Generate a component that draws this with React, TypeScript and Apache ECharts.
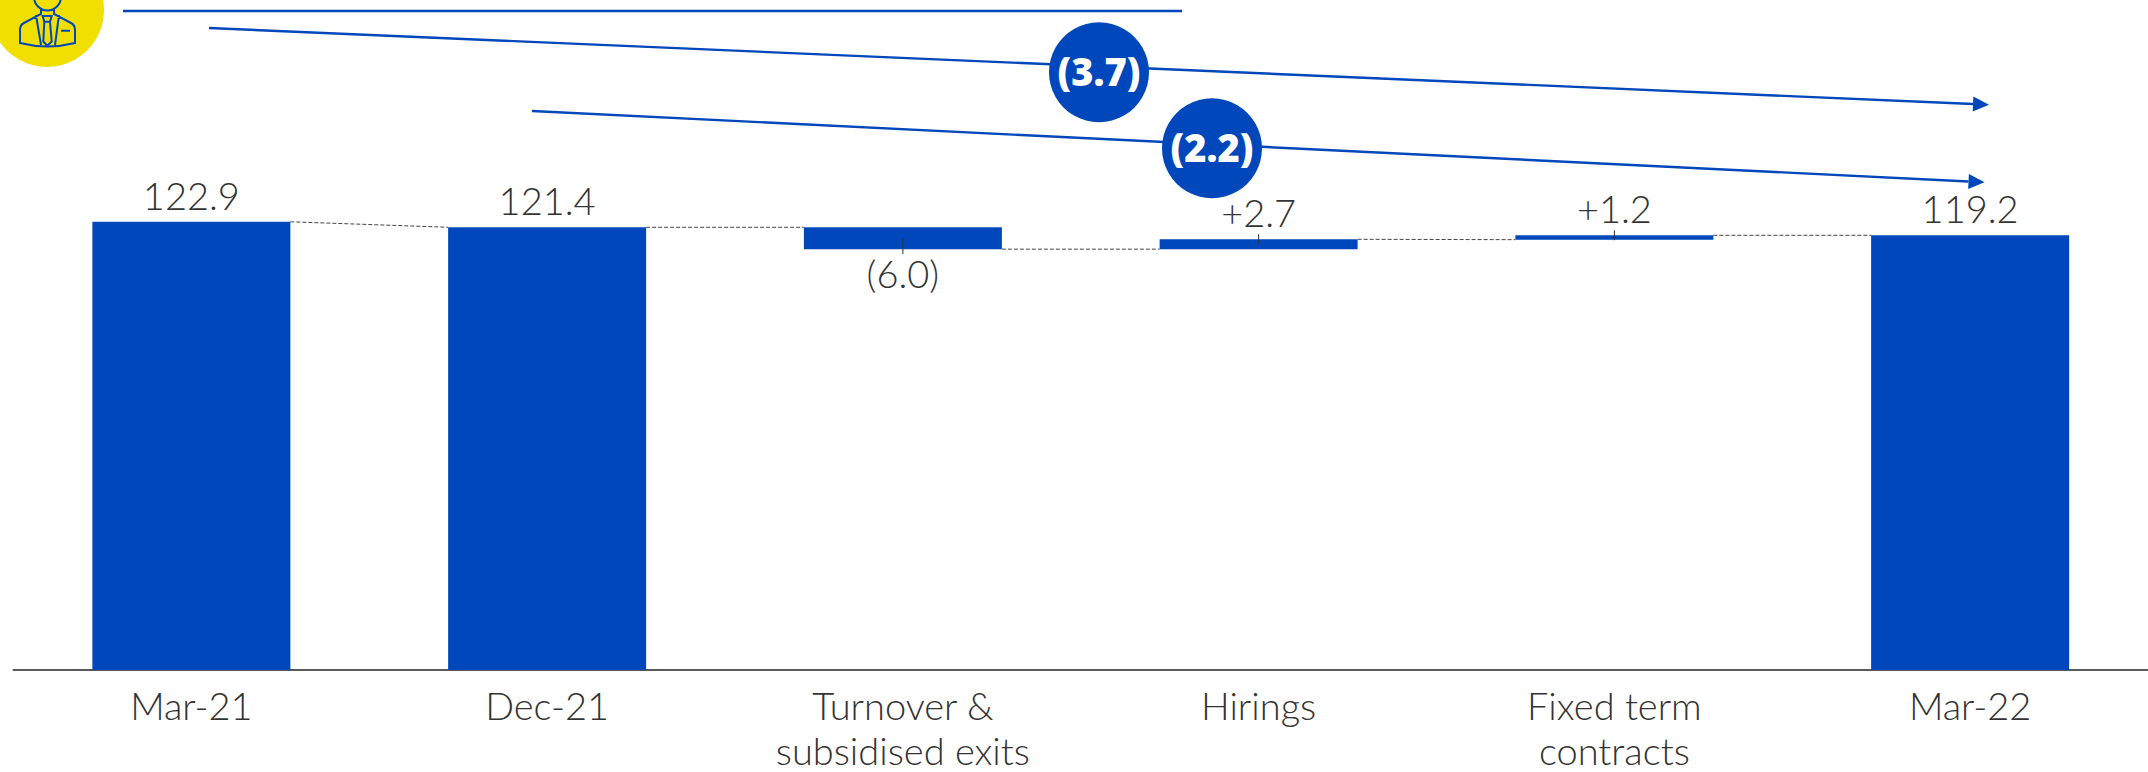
import React, { useEffect, useRef } from "react";
import * as echarts from "echarts";

const categories = ["Mar-21", "Dec-21", "Turnover &\nsubsidised exits", "Hirings", "Fixed term\ncontracts", "Mar-22"];
const barBase = [0, 0, 115.4, 115.4, 118.0, 0];
const barSize = [122.9, 121.4, 6.0, 2.7, 1.2, 119.2];
const valueLabels = ["122.9", "121.4", "(6.0)", "+2.7", "+1.2", "119.2"];
const labelSides = ["top", "top", "bottom", "top", "top", "top"];
const connectorLevels = [
  [122.9, 121.4],
  [121.4, 121.4],
  [115.4, 115.4],
  [118.1, 118.0],
  [119.2, 119.2],
];
const leaderLevels = [
  [2, 115.4],
  [3, 118.1],
  [4, 119.2],
];
const trendLabels = ["(3.7)", "(2.2)"];

const BLUE = "#0047BB";
const INK = "#333333";
const YELLOW = "#F0DF00";
const FONT = "Lato, 'Open Sans', sans-serif";
const BADGE_FONT = "'Open Sans', Lato, sans-serif";
const BAR_WIDTH = 198;

const PERSON_ICON =
  "M34,-3 A13.5,13.5 0 0 0 61,-3 " +
  "M41,9 L41,14 L24,23 Q20,25 20,30 L20,43 Q47.5,50 75,43 L75,30 Q75,25 71,23 L54,14 L54,9 " +
  "M36,15 L41,45 M59,15 L55,45 " +
  "M42.7,16 L51.7,16 L50,21.7 L44.3,21.7 Z " +
  "M44.3,21.7 L43.3,41.5 L47.3,45.7 L51.7,41.5 L50,21.7 " +
  "M61,30.7 L70,30.7";

echarts.graphic.registerShape("personIcon", echarts.graphic.extendPath(PERSON_ICON, {}));

// Straight trend arrow: shaft plus a triangular head aligned to the shaft's slope.
function arrow(x1: number, y1: number, x2: number, y2: number) {
  const a = Math.atan2(y2 - y1, x2 - x1);
  const len = 16;
  const half = 7.5;
  const bx = x2 - len * Math.cos(a);
  const by = y2 - len * Math.sin(a);
  return [
    { type: "line", shape: { x1, y1, x2: bx, y2: by }, style: { stroke: BLUE, lineWidth: 2.4 } },
    {
      type: "polygon",
      shape: {
        points: [
          [x2, y2],
          [bx - half * Math.sin(a), by + half * Math.cos(a)],
          [bx + half * Math.sin(a), by - half * Math.cos(a)],
        ],
      },
      style: { fill: BLUE },
    },
  ];
}

function badge(cx: number, cy: number, text: string) {
  return [
    { type: "circle", shape: { cx, cy, r: 50 }, style: { fill: BLUE } },
    {
      type: "text",
      x: cx,
      y: cy - 1,
      style: {
        text,
        fill: "#FFFFFF",
        font: `800 38px ${BADGE_FONT}`,
        align: "center",
        verticalAlign: "middle",
      },
    },
  ];
}

export default function App() {
  const ref = useRef<HTMLDivElement>(null);

  useEffect(() => {
    const chart = echarts.init(ref.current!, null, { renderer: "svg" });

    chart.setOption({
      animation: false,
      backgroundColor: "#FFFFFF",
      grid: { left: 13.5, top: 86.5, width: 2134.5, height: 585.5 },
      xAxis: {
        type: "category",
        data: categories,
        axisLine: { lineStyle: { color: "#5A5A5A", width: 2 } },
        axisTick: { show: false },
        axisLabel: {
          color: INK,
          fontFamily: FONT,
          fontWeight: 300,
          fontSize: 38,
          lineHeight: 45,
          margin: 12,
          interval: 0,
        },
      },
      yAxis: { type: "value", min: 0, max: 160, show: false },
      series: [
        {
          type: "bar",
          stack: "walk",
          silent: true,
          barWidth: BAR_WIDTH,
          itemStyle: { color: "transparent" },
          data: barBase,
        },
        {
          type: "bar",
          stack: "walk",
          silent: true,
          barWidth: BAR_WIDTH,
          itemStyle: { color: BLUE },
          data: barSize.map((value, i) => ({
            value,
            label: {
              show: true,
              position: labelSides[i],
              distance: labelSides[i] === "top" ? 8 : 5,
              formatter: valueLabels[i],
              color: INK,
              fontFamily: FONT,
              fontWeight: 300,
              fontSize: 38,
              lineHeight: 38,
            },
          })),
        },
        {
          // Dashed connectors between the edges of neighbouring bars.
          type: "custom",
          silent: true,
          z: 3,
          clip: false,
          data: connectorLevels.map((levels, i) => [i, levels[0], levels[1]]),
          renderItem: (_: unknown, api: any) => {
            const i = api.value(0);
            const a = api.coord([i, api.value(1)]);
            const b = api.coord([i + 1, api.value(2)]);
            return {
              type: "line",
              shape: { x1: a[0] + BAR_WIDTH / 2, y1: a[1], x2: b[0] - BAR_WIDTH / 2, y2: b[1] },
              style: { stroke: "#444444", lineWidth: 1, lineDash: [4, 2] },
            };
          },
        },
        {
          // Short leader ticks tying each movement bar to its value label.
          type: "custom",
          silent: true,
          z: 3,
          clip: false,
          data: leaderLevels,
          renderItem: (_: unknown, api: any) => {
            const i = api.value(0);
            const p = api.coord([i, api.value(1)]);
            const below = labelSides[i] === "bottom";
            return {
              type: "line",
              shape: { x1: p[0], y1: p[1] - (below ? 11 : 5), x2: p[0], y2: p[1] + 5 },
              style: { stroke: INK, lineWidth: 1 },
            };
          },
        },
      ],
      graphic: [
        { type: "circle", shape: { cx: 47, cy: 10, r: 57 }, style: { fill: YELLOW } },
        {
          type: "personIcon",
          x: 0,
          y: 0,
          style: { fill: "none", stroke: BLUE, lineWidth: 2 },
        },
        { type: "line", shape: { x1: 123, y1: 11, x2: 1182, y2: 11 }, style: { stroke: BLUE, lineWidth: 2.4 } },
        ...arrow(209, 28, 1989, 104.7),
        ...arrow(532, 111, 1984.5, 182.3),
        ...badge(1099, 72.3, trendLabels[0]),
        ...badge(1212, 148.3, trendLabels[1]),
      ],
    });

    return () => chart.dispose();
  }, []);

  return (
    <div
      ref={ref}
      style={{ position: "fixed", left: 0, top: 0, width: 2148, height: 772, background: "#FFFFFF" }}
    />
  );
}
